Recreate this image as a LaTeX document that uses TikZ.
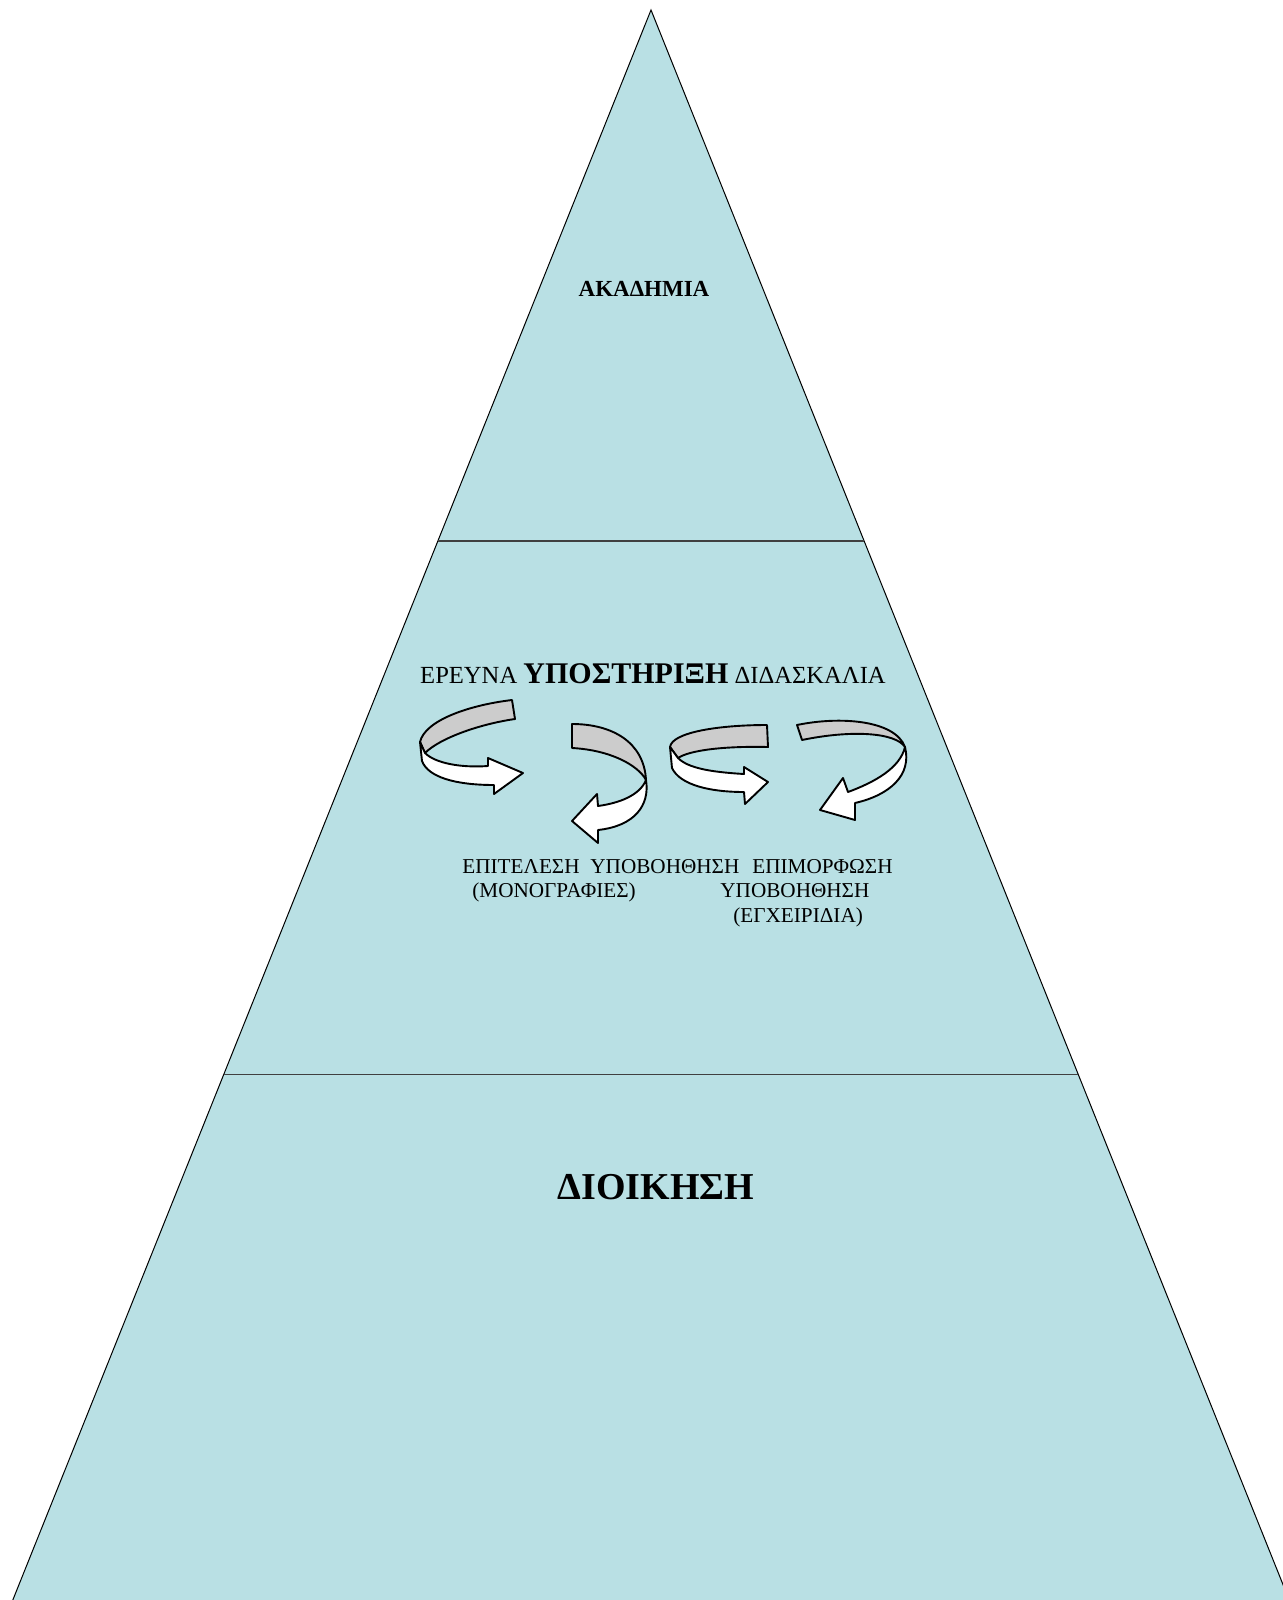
\documentclass[tikz,border=0pt]{standalone}
\usepackage{fontspec}
\setmainfont{Liberation Serif}
\usetikzlibrary{calc}
\definecolor{pyramidblue}{RGB}{185,224,228}
\definecolor{bandgray}{RGB}{204,204,204}
\tikzset{
    bandback/.style={fill=bandgray, draw=black, line width=0.95pt, line join=round},
    bandfront/.style={fill=white, draw=black, line width=0.95pt, line join=round},
    smalltext/.style={inner sep=0pt, anchor=base west, font=\fontsize{10.6}{13}\selectfont}
}

\begin{document}
\begin{tikzpicture}[x=0.5pt, y=-0.5pt]
    \useasboundingbox (0,0) rectangle (1282,1600);

    % pyramid corners (base just below the page)
    \coordinate (A) at (651,10);
    \coordinate (B) at (11.6,1603);
    \coordinate (C) at (1290.4,1603);

    % level borders on the sides
    \coordinate (D) at ($(A)!0.3333!(B)$);
    \coordinate (E) at ($(A)!0.3333!(C)$);
    \coordinate (F) at ($(A)!0.668!(B)$);
    \coordinate (G) at ($(A)!0.668!(C)$);

    % draw pyramid and levels
    \draw[fill=pyramidblue, line width=0.5pt] (A)--(B)--(C)--cycle;
    \draw[line width=0.6pt, black!75] (D)--(E);
    \draw[line width=0.6pt, black!75] (F)--(G);

    % level titles
    \node[anchor=base, inner sep=0pt, font=\fontsize{11.5}{14}\selectfont\bfseries] (akad) at (644,296) {ΑΚΑΔΗΜΙΑ};
    \node[anchor=base, inner sep=0pt, font=\fontsize{19}{23}\selectfont\bfseries] (dioik) at (656,1199) {ΔΙΟΙΚΗΣΗ};
    \node[anchor=base, inner sep=0pt, font=\fontsize{12.3}{15}\selectfont] (ypost) at (653,683)
        {ΕΡΕΥΝΑ {\fontsize{15}{18}\selectfont\bfseries ΥΠΟΣΤΗΡΙΞΗ} ΔΙΔΑΣΚΑΛΙΑ};

    % curved ribbon arrows
    % first: back band, then front band with head
    \draw[bandback] (512,700) .. controls (470,705) and (425,720) .. (420,742)
        -- (425,753) .. controls (440,738) and (480,724) .. (515,719) -- cycle;
    \draw[bandfront] (420,742) -- (422,761) .. controls (428,777) and (455,785) .. (494,785)
        -- (494,794) -- (523,773) -- (488,758) -- (488,766)
        .. controls (460,768) and (435,763) .. (425,753) -- cycle;

    % second
    \draw[bandback] (572,724) .. controls (612,724) and (644,742) .. (646,780)
        .. controls (638,765) and (610,750) .. (572,748) -- cycle;
    \draw[bandfront] (646,780) .. controls (650,805) and (635,826) .. (598,830)
        -- (598,843) -- (572,821) -- (597,794) -- (598,806)
        .. controls (620,803) and (640,795) .. (646,780) -- cycle;

    % third
    \draw[bandback] (767,725) .. controls (720,725) and (672,732) .. (670,747)
        -- (678,758) .. controls (690,750) and (725,746) .. (768,747) -- cycle;
    \draw[bandfront] (670,747) -- (672,768) .. controls (680,785) and (710,792) .. (744,792)
        -- (745,804) -- (768,782) -- (744,767) -- (744,774)
        .. controls (710,772) and (688,768) .. (678,758) -- cycle;

    % fourth
    \draw[bandback] (797,725) .. controls (840,716) and (895,720) .. (905,747)
        .. controls (895,732) and (850,730) .. (802,740) -- cycle;
    \draw[bandfront] (905,747) .. controls (912,775) and (890,795) .. (855,803)
        -- (855,820) -- (820,810) -- (843,778) -- (848,792)
        .. controls (875,782) and (900,768) .. (905,747) -- cycle;

    % tasks under the arrows
    \node[smalltext] (epit) at (462,873) {ΕΠΙΤΕΛΕΣΗ};
    \node[smalltext] (ypov) at (590,873) {ΥΠΟΒΟΗΘΗΣΗ};
    \node[smalltext] (epim) at (752,873) {ΕΠΙΜΟΡΦΩΣΗ};
    \node[smalltext] (monogr) at (472,897) {(ΜΟΝΟΓΡΑΦΙΕΣ)};
    \node[smalltext] (ypovb) at (720,897) {ΥΠΟΒΟΗΘΗΣΗ};
    \node[smalltext] (egx) at (733,922) {(ΕΓΧΕΙΡΙΔΙΑ)};
\end{tikzpicture}
\end{document}
